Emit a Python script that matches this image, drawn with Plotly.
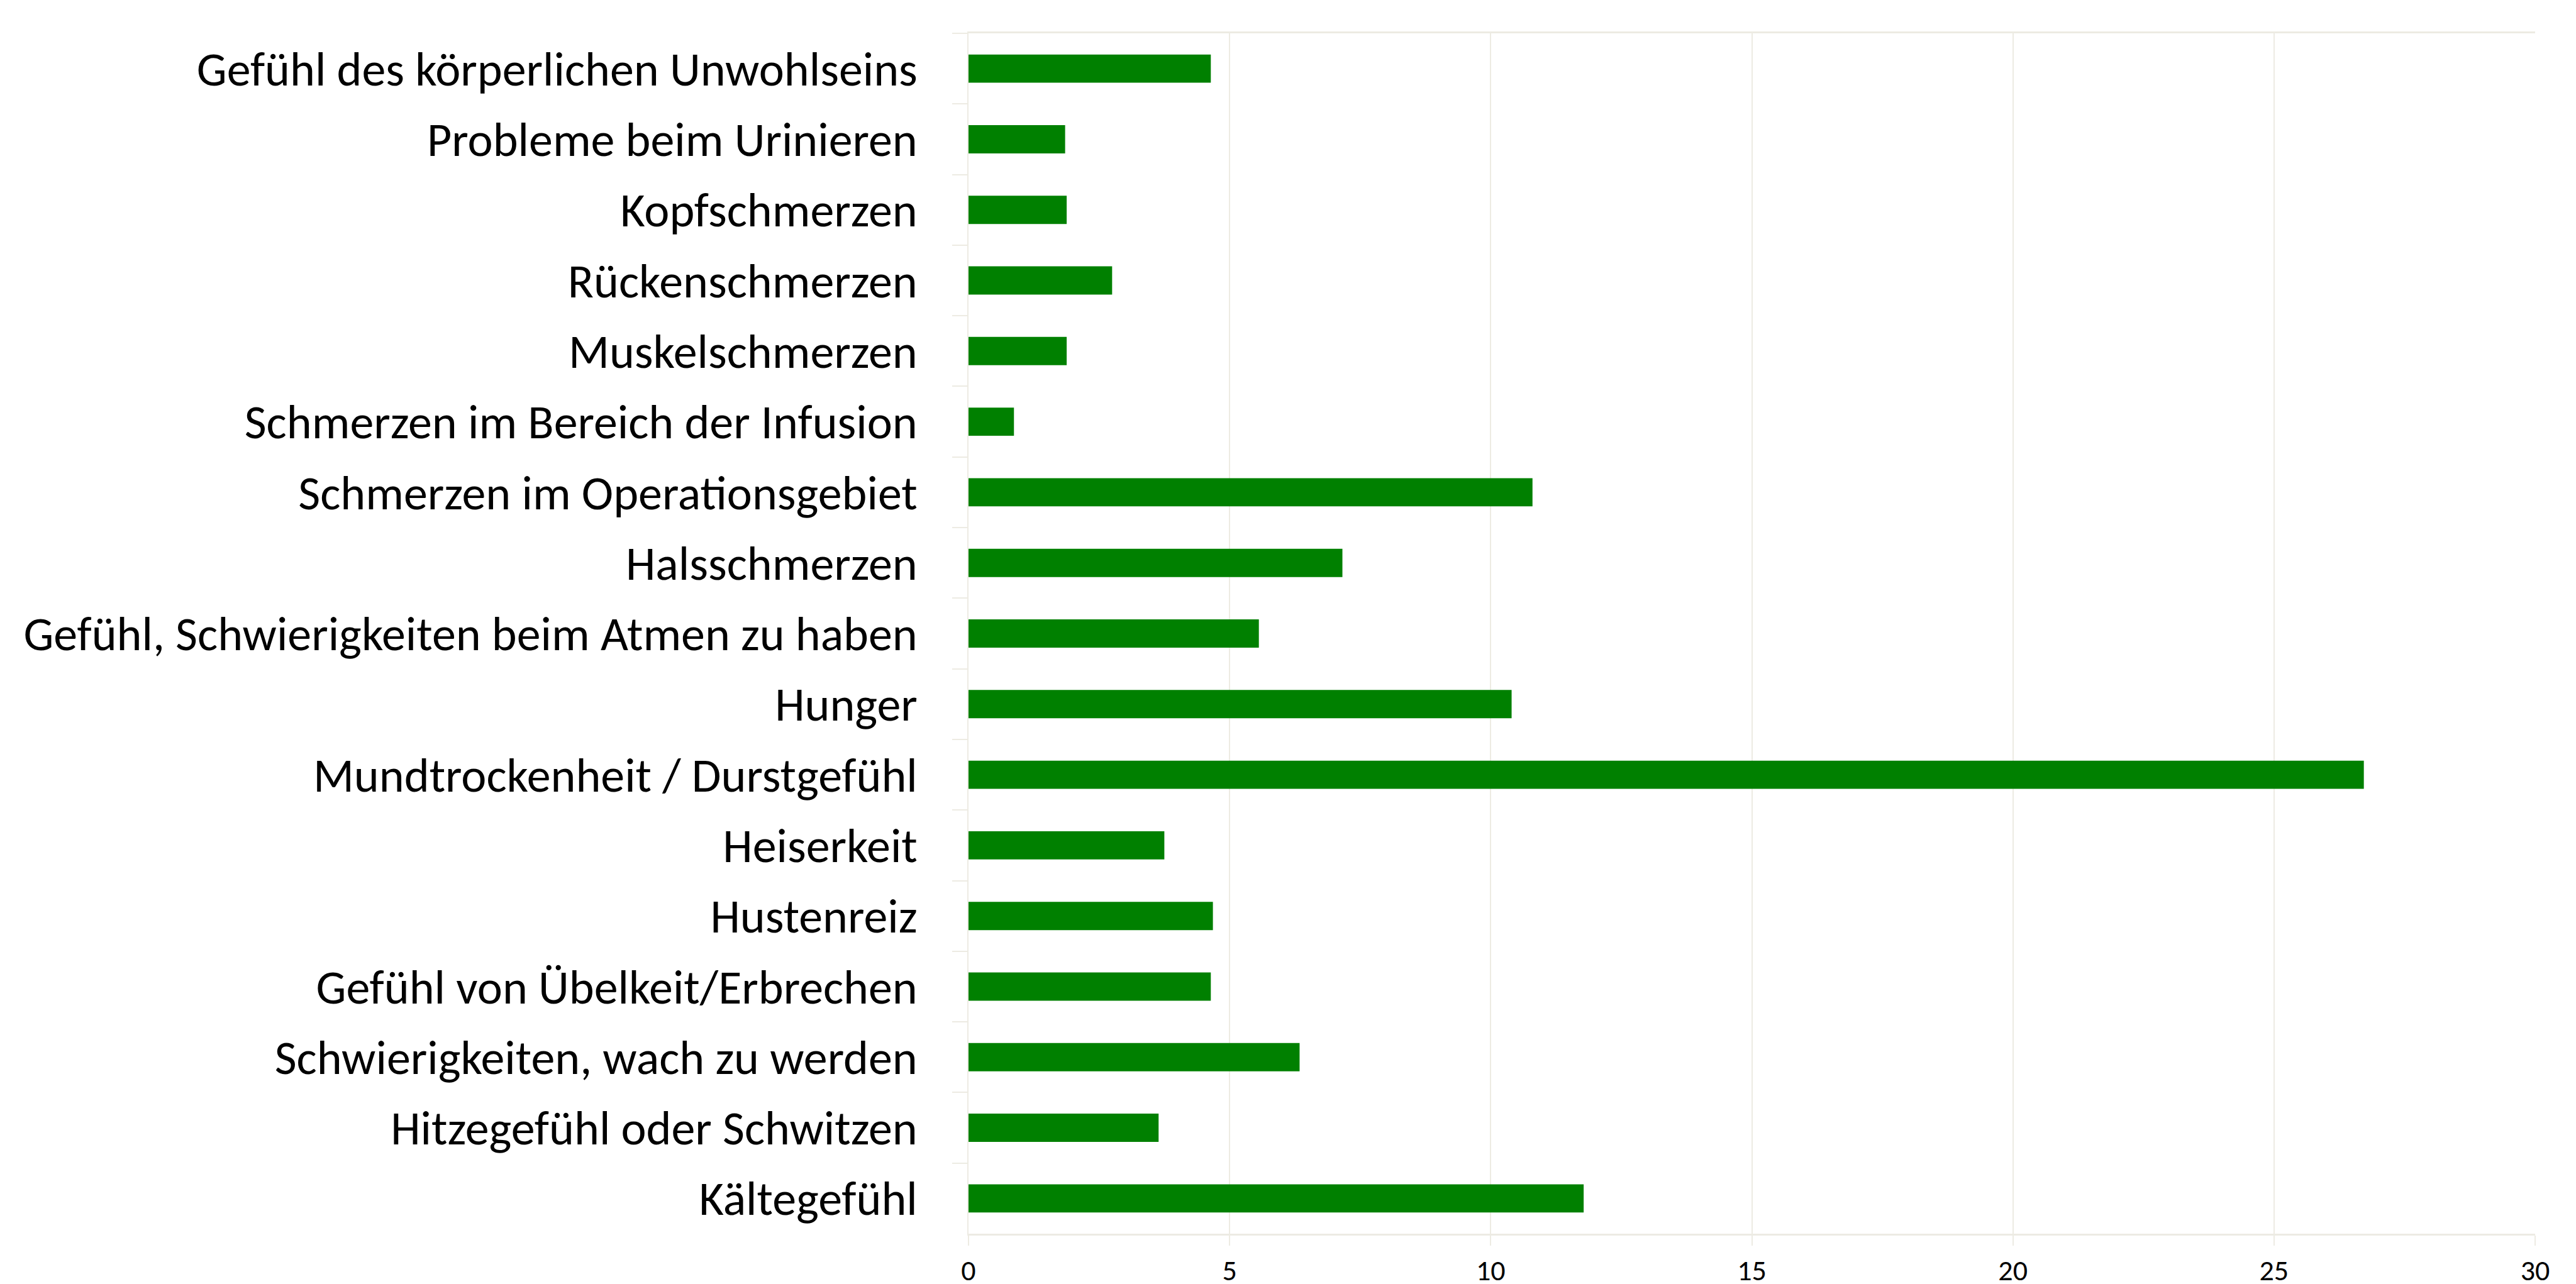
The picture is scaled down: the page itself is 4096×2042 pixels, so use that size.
import plotly.graph_objects as go

categories = [
    "Gefühl des körperlichen Unwohlseins",
    "Probleme beim Urinieren",
    "Kopfschmerzen",
    "Rückenschmerzen",
    "Muskelschmerzen",
    "Schmerzen im Bereich der Infusion",
    "Schmerzen im Operationsgebiet",
    "Halsschmerzen",
    "Gefühl, Schwierigkeiten beim Atmen zu haben",
    "Hunger",
    "Mundtrockenheit / Durstgefühl",
    "Heiserkeit",
    "Hustenreiz",
    "Gefühl von Übelkeit/Erbrechen",
    "Schwierigkeiten, wach zu werden",
    "Hitzegefühl oder Schwitzen",
    "Kältegefühl",
]
values = [4.64, 1.85, 1.88, 2.75, 1.88, 0.87, 10.80, 7.16, 5.56,
          10.40, 26.72, 3.75, 4.68, 4.64, 6.34, 3.64, 11.78]
x_ticks = [0, 5, 10, 15, 20, 25, 30]

grid = "#EDEBE3"
font_family = "Calibri, Carlito, Lato, sans-serif"

fig = go.Figure(go.Bar(
    y=categories, x=values, orientation="h",
    marker=dict(color="#008000", line=dict(width=0)),
    hoverinfo="skip",
))

fig.update_layout(
    width=4096, height=2042,
    margin=dict(l=1532, r=73, t=45, b=88),
    paper_bgcolor="white", plot_bgcolor="white",
    bargap=0.6, showlegend=False,
    font=dict(family=font_family, color="black"),
)
fig.update_xaxes(
    range=[0, 30], tickvals=x_ticks, ticktext=[str(v) for v in x_ticks],
    showgrid=True, gridcolor=grid, gridwidth=2,
    showline=True, linecolor=grid, linewidth=3, mirror=True,
    ticks="outside", ticklen=16, tickcolor=grid, tickwidth=2,
    tickfont=dict(size=46, family=font_family, color="black"),
    ticklabelstandoff=0,
    zeroline=False, fixedrange=True, automargin=False,
)
fig.update_yaxes(
    categoryorder="array", categoryarray=categories, autorange="reversed",
    showgrid=False, showline=True, linecolor=grid, linewidth=2,
    ticks="outside", tickson="boundaries", ticklen=24, tickcolor=grid, tickwidth=2,
    tickfont=dict(size=76, family=font_family, color="black"),
    ticklabelstandoff=64,
    zeroline=False, fixedrange=True, automargin=False,
)

fig.write_html("out.html")
